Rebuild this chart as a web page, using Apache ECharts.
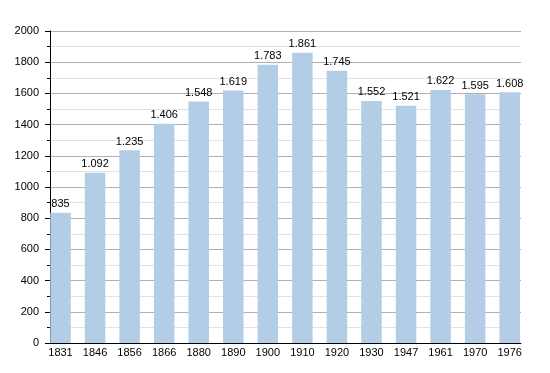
<!DOCTYPE html>
<html><head><meta charset="utf-8">
<script src="https://cdn.jsdelivr.net/npm/echarts@6/dist/echarts.min.js"></script>
<style>html,body{margin:0;padding:0;background:#fff}#c{width:550px;height:373px}</style>
</head><body><div id="c"></div>
<script>
const categories = ["1831","1846","1856","1866","1880","1890","1900","1910","1920","1930","1947","1961","1970","1976"];
const population = [835,1092,1235,1406,1548,1619,1783,1861,1745,1552,1521,1622,1595,1608];
const yTicks = {min:0, max:2000, interval:200};

const fmt = v => { const s = String(v); return s.length > 3 ? s.slice(0, s.length-3) + '.' + s.slice(-3) : s; };
const font = 'Liberation Sans, Arial, sans-serif';
const chart = echarts.init(document.getElementById('c'), null, {renderer:'canvas'});
chart.setOption({
  animation:false,
  grid:[
    {left:50, right:29, top:31, bottom:30},
    {left:60.5, right:40.3, top:31, bottom:30}
  ],
  xAxis:[
    {gridIndex:0, type:'value', min:0, max:1, axisLine:{show:true, onZero:false, lineStyle:{color:'#000', width:1}},
     axisTick:{show:false}, axisLabel:{show:false}, splitLine:{show:false}},
    {gridIndex:1, type:'category', data:categories, boundaryGap:false,
     axisLine:{show:false}, axisTick:{show:false}, splitLine:{show:false},
     axisLabel:{color:'#000', fontSize:11, fontFamily:font, margin:4, interval:0}}
  ],
  yAxis:[
    {gridIndex:0, type:'value', min:yTicks.min, max:yTicks.max, interval:yTicks.interval,
     axisLine:{show:true, lineStyle:{color:'#000', width:1}},
     axisTick:{show:true, inside:false, length:5, lineStyle:{color:'#000'}},
     minorTick:{show:true, splitNumber:2, length:3, lineStyle:{color:'#000'}},
     axisLabel:{color:'#000', fontSize:11, fontFamily:font, margin:11, formatter:v => String(v)},
     splitLine:{show:true, lineStyle:{color:'#b0b0b0', width:1}},
     minorSplitLine:{show:true, lineStyle:{color:'#e2e2e2', width:1}}},
    {gridIndex:1, type:'value', min:yTicks.min, max:yTicks.max, show:false, splitLine:{show:false}}
  ],
  series:[{
    type:'bar', xAxisIndex:1, yAxisIndex:1, data:population, barWidth:20.5,
    itemStyle:{color:'#b3cde6'},
    label:{show:true, position:'top', distance:3, color:'#000', fontSize:11, fontFamily:font,
      formatter:p => fmt(p.value)}
  }]
});
</script></body></html>
